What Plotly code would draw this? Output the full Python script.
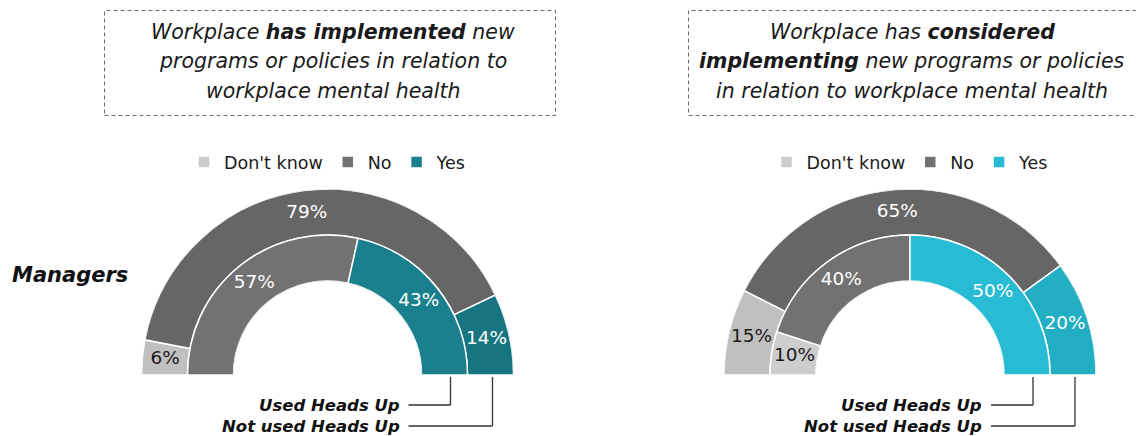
import plotly.graph_objects as go

W, H = 1136, 436

categories = ["Don't know", "No", "Yes"]

# Left panel: workplace has implemented new programs/policies
left_not_used = [6, 79, 14]   # outer ring
left_used = [0, 57, 43]       # inner ring

# Right panel: workplace has considered implementing
right_not_used = [15, 65, 20]  # outer ring
right_used = [10, 40, 50]      # inner ring

left_colors_outer = ["#c0c0c0", "#666666", "#177581"]
left_colors_inner = ["#cbcbcb", "#727272", "#1b808d"]
right_colors_outer = ["#c0c0c0", "#666666", "#22aec3"]
right_colors_inner = ["#cdcdcd", "#727272", "#27bcd4"]

label_font = "DejaVu Sans"


def px(x):
    return x / W


def py(y):
    return 1 - y / H


def ring_angles(values):
    total = sum(values)
    mids, widths = [], []
    start = 0.0
    for v in values:
        w = v / total * 180.0
        mids.append(start + w / 2)
        widths.append(w)
        start += w
    return mids, widths


fig = go.Figure()


def add_panel(polar_id, legend_id, outer_vals, inner_vals, c_outer, c_inner):
    rings = [(outer_vals, c_outer, 1.0, False), (inner_vals, c_inner, 0.0, True)]
    for vals, cols, base, in_legend in rings:
        mids, widths = ring_angles(vals)
        for i, cat in enumerate(categories):
            fig.add_trace(go.Barpolar(
                theta=[mids[i]], width=[widths[i]], r=[1.0], base=[base],
                marker=dict(color=cols[i], line=dict(color="white", width=1.5)),
                name=cat, subplot=polar_id, legend=legend_id,
                showlegend=in_legend, hoverinfo="skip",
            ))
        txt, th, rr, tc = [], [], [], []
        for i, v in enumerate(vals):
            if v <= 0:
                continue
            txt.append(f"{v}%")
            th.append(mids[i])
            rr.append(base + 0.5)
            tc.append("#1a1a1a" if i == 0 else "white")
        fig.add_trace(go.Scatterpolar(
            theta=th, r=rr, text=txt, mode="text",
            textfont=dict(family=label_font, size=18.5, color=tc),
            subplot=polar_id, showlegend=False, hoverinfo="skip",
        ))


add_panel("polar", "legend", left_not_used, left_used, left_colors_outer, left_colors_inner)
add_panel("polar2", "legend2", right_not_used, right_used, right_colors_outer, right_colors_inner)

R = 186
centers = [(327.5, 375), (910, 375)]


def polar_layout(cx, cy):
    return dict(
        domain=dict(x=[px(cx - R), px(cx + R)], y=[py(cy), py(cy - R)]),
        sector=[0, 180], hole=94 / R, bgcolor="rgba(0,0,0,0)",
        radialaxis=dict(visible=False, range=[0, 2]),
        angularaxis=dict(visible=False, rotation=180, direction="clockwise"),
        barmode="overlay",
    )


legend_style = dict(orientation="h", xanchor="center", yanchor="middle",
                    font=dict(family=label_font, size=17.5, color="#1a1a1a"),
                    bgcolor="rgba(0,0,0,0)", itemclick=False, itemdoubleclick=False)

shapes = []
annotations = []

# Dashed title boxes
box_style = dict(type="rect", xref="paper", yref="paper",
                 line=dict(color="#6a6a6a", width=1, dash="4px,3px"))
shapes.append(dict(box_style, x0=px(104.5), x1=px(555.5), y0=py(115.5), y1=py(10.5)))
shapes.append(dict(box_style, x0=px(688.5), x1=px(1140), y0=py(115.5), y1=py(10.5)))

title_lines = [
    (333, ["<i>Workplace <b>has implemented</b> new</i>",
           "<i>programs or policies in relation to</i>",
           "<i>workplace mental health</i>"]),
    (912, ["<i>Workplace has <b>considered</b></i>",
           "<i><b>implementing</b> new programs or policies</i>",
           "<i>in relation to workplace mental health</i>"]),
]
for cx, lines in title_lines:
    for k, line in enumerate(lines):
        annotations.append(dict(
            text=line, x=px(cx), y=py(32 + 29.5 * k), xref="paper", yref="paper",
            xanchor="center", yanchor="middle", showarrow=False,
            font=dict(family=label_font, size=20.5, color="#1a1a1a"),
        ))

annotations.append(dict(
    text="<b><i>Managers</i></b>", x=px(10), y=py(275), xref="paper", yref="paper",
    xanchor="left", yanchor="middle", showarrow=False,
    font=dict(family=label_font, size=21, color="#111111"),
))

# Ring call-outs under each half donut
for cx, cy in centers:
    for label, yy, dx in [("Used Heads Up", 405, 123), ("Not used Heads Up", 426, 165)]:
        annotations.append(dict(
            text=f"<b><i>{label}</i></b>", x=px(cx + 74), y=py(yy),
            xref="paper", yref="paper", xanchor="right", yanchor="middle",
            showarrow=False, font=dict(family=label_font, size=16.5, color="#111111"),
        ))
        line_style = dict(type="line", xref="paper", yref="paper",
                          line=dict(color="#333333", width=1.3))
        shapes.append(dict(line_style, x0=px(cx + 81), x1=px(cx + dx), y0=py(yy), y1=py(yy)))
        shapes.append(dict(line_style, x0=px(cx + dx), x1=px(cx + dx), y0=py(yy), y1=py(cy + 2)))

fig.update_layout(
    width=W, height=H, margin=dict(l=0, r=0, t=0, b=0),
    paper_bgcolor="white", plot_bgcolor="white",
    polar=polar_layout(*centers[0]),
    polar2=polar_layout(*centers[1]),
    legend=dict(legend_style, x=px(327.5), y=py(162)),
    legend2=dict(legend_style, x=px(910), y=py(162)),
    shapes=shapes, annotations=annotations,
    showlegend=True,
)

fig.write_html("out.html")
